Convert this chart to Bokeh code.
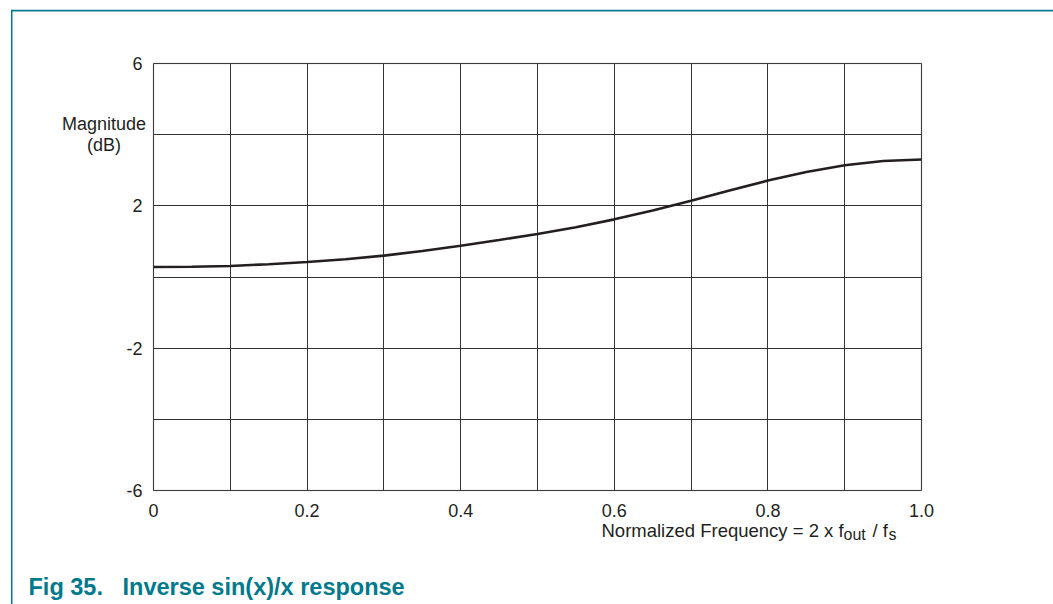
from bokeh.plotting import figure
from bokeh.models import FixedTicker, Label, BoxAnnotation, Range1d, Grid
from bokeh.embed import file_html
from bokeh.resources import INLINE

# ---- data ----
freq = [0.0, 0.05, 0.1, 0.15, 0.2, 0.25, 0.3, 0.35, 0.4, 0.45, 0.5,
        0.55, 0.6, 0.65, 0.7, 0.75, 0.8, 0.85, 0.9, 0.95, 1.0]
magnitude_db = [0.28, 0.29, 0.31, 0.36, 0.42, 0.50, 0.60, 0.73, 0.88, 1.04, 1.21,
                1.40, 1.62, 1.87, 2.14, 2.43, 2.71, 2.95, 3.14, 3.26, 3.30]

x_ticks = [0, 0.2, 0.4, 0.6, 0.8, 1.0]
x_tick_labels = ["0", "0.2", "0.4", "0.6", "0.8", "1.0"]
y_ticks = [-6, -2, 2, 6]
y_tick_labels = ["-6", "-2", "2", "6"]
x_grid = [0, 0.1, 0.2, 0.3, 0.4, 0.5, 0.6, 0.7, 0.8, 0.9, 1.0]
y_grid = [-6, -4, -2, 0, 2, 4, 6]
X0, X1 = 0, 1
Y0, Y1 = -6, 6

TEAL = "#007a8c"
INK = "#231f20"
FONT = "Liberation Sans"

# ---- layout (canvas pixels) ----
W, H = 1053, 604
FL, FR, FT, FB = 153, 921, 63, 490   # chart box edges on the canvas
sx = (FR - FL) / (X1 - X0)
sy = (FB - FT) / (Y1 - Y0)

x_range = Range1d(X0 - FL / sx, X1 + (W - FR) / sx)
y_range = Range1d(Y0 - (H - FB) / sy, Y1 + FT / sy)

p = figure(width=W, height=H, output_backend="svg", toolbar_location=None,
           x_range=x_range, y_range=y_range, min_border=0)
p.background_fill_color = "white"
p.border_fill_color = "white"
p.outline_line_color = None

# grids limited to the chart box
p.xgrid.ticker = FixedTicker(ticks=x_grid)
p.ygrid.ticker = FixedTicker(ticks=y_grid)
has_cross = "cross_bounds" in Grid.properties()
if has_cross:
    p.xgrid.cross_bounds = (Y0, Y1)
    p.ygrid.cross_bounds = (X0, X1)
    for g in (p.xgrid, p.ygrid):
        g.grid_line_color = "#333333"
        g.grid_line_width = 1
else:
    p.xgrid.visible = False
    p.ygrid.visible = False
    p.segment(x0=x_grid, y0=[Y0] * len(x_grid), x1=x_grid, y1=[Y1] * len(x_grid),
              line_color="#333333", line_width=1)
    p.segment(x0=[X0] * len(y_grid), y0=y_grid, x1=[X1] * len(y_grid), y1=y_grid,
              line_color="#333333", line_width=1)

# axes fixed at the chart box edges
p.xaxis.fixed_location = Y0
p.xaxis.bounds = (X0, X1)
p.xaxis.ticker = FixedTicker(ticks=x_ticks)
p.xaxis.major_label_overrides = {t: l for t, l in zip(x_ticks, x_tick_labels)}
p.yaxis.fixed_location = X0
p.yaxis.bounds = (Y0, Y1)
p.yaxis.ticker = FixedTicker(ticks=y_ticks)
p.yaxis.major_label_overrides = {t: l for t, l in zip(y_ticks, y_tick_labels)}
for ax in (p.xaxis, p.yaxis):
    ax.axis_line_color = None
    ax.major_tick_line_color = None
    ax.minor_tick_line_color = None
    ax.major_tick_out = 0
    ax.major_tick_in = 0
    ax.minor_tick_out = 0
    ax.minor_tick_in = 0
    ax.major_label_text_font = FONT
    ax.major_label_text_font_size = "18px"
    ax.major_label_text_color = INK
p.yaxis.major_label_standoff = 11
p.xaxis.major_label_standoff = 13

# chart box border
p.add_layout(BoxAnnotation(left=X0, right=X1, bottom=Y0, top=Y1, fill_alpha=0,
                           line_color="#555555", line_width=1.5, level="underlay"))

# curve
p.line(freq, magnitude_db, line_color=INK, line_width=2.6)

# helpers: canvas pixel -> data coords for text placement
def dx(px):
    return X0 + (px - FL) / sx

def dy(py):
    return Y1 - (py - FT) / sy

def add_text(txt, px, py, size="18px", align="left", bold=False, color=INK):
    p.add_layout(Label(x=dx(px), y=dy(py), text=txt, text_font=FONT,
                       text_font_size=size, text_align=align,
                       text_baseline="alphabetic", text_color=color,
                       text_font_style="bold" if bold else "normal"))

NB = "\u00a0"

add_text("Magnitude", 103.5, 123, align="center")
add_text("(dB)", 103.5, 144, align="center")

add_text("Normalized Frequency = 2 x f", 601, 530, size="18.5px")
add_text("out", 843, 534, size="16px")
add_text("/ f", 872, 530, size="18.5px")
add_text("s", 888, 534, size="16px")

add_text("Fig 35." + NB + NB + " Inverse sin(x)/x response", 28, 586, size="23.5px",
         bold=True, color=TEAL)

# page rules (top teal rule and left rule)
p.add_layout(BoxAnnotation(left=dx(11), right=dx(W + 5), top=dy(9.3), bottom=dy(11),
                           fill_color=TEAL, fill_alpha=1, line_color=None, level="overlay"))
p.add_layout(BoxAnnotation(left=dx(10.5), right=dx(12), top=dy(9.3), bottom=dy(H + 5),
                           fill_color=TEAL, fill_alpha=1, line_color=None, level="overlay"))

open("out.html", "w").write(file_html(p, INLINE))
